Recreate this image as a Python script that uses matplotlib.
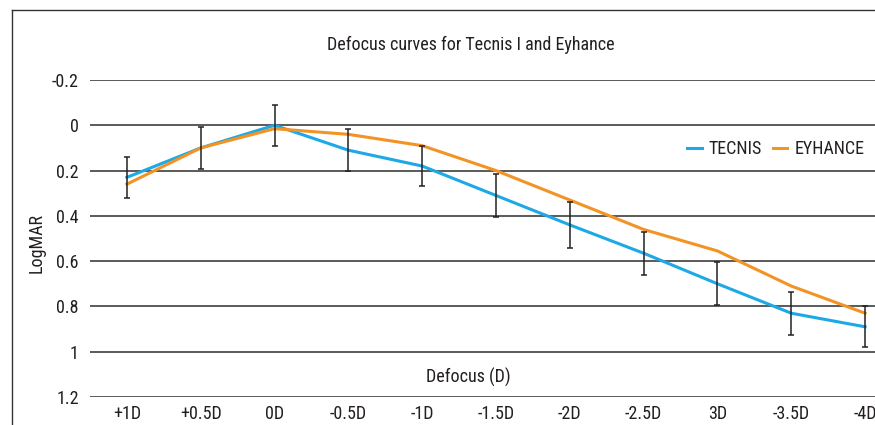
import matplotlib
matplotlib.use("Agg")
import matplotlib.pyplot as plt
from matplotlib.lines import Line2D
from matplotlib import font_manager

# narrow face to match the original; fall back to DejaVu
names = {f.name for f in font_manager.fontManager.ttflist}
narrow = [n for n in ['Roboto Condensed', 'Barlow Semi Condensed', 'Abel'] if n in names]
plt.rcParams['font.family'] = narrow[:1] + ['DejaVu Sans']

# ── Data ──────────────────────────────────────────────────────────────
defocus = ['+1D', '+0.5D', '0D', '-0.5D', '-1D', '-1.5D', '-2D', '-2.5D', '3D', '-3.5D', '-4D']
tecnis  = [0.23, 0.10, 0.00, 0.11, 0.18, 0.31, 0.44, 0.565, 0.70, 0.83, 0.89]
eyhance = [0.26, 0.10, 0.015, 0.04, 0.09, 0.20, 0.33, 0.46, 0.555, 0.71, 0.83]
tecnis_err = [0.09, 0.092, 0.09, 0.092, 0.09, 0.095, 0.10, 0.095, 0.095, 0.095, 0.09]
yticks = [-0.2, 0, 0.2, 0.4, 0.6, 0.8, 1, 1.2]
ytick_labels = ['-0.2', '0', '0.2', '0.4', '0.6', '0.8', '1', '1.2']

blue = '#1CA9E6'
orange = '#F39325'
grid_col = '#4d4d4d'
txt_col = '#231f20'
fs = 13

fig = plt.figure(figsize=(8.75, 4.25), dpi=100)
# axes runs off the right edge like the original crop
ax = fig.add_axes([90/875, 28/425, 812/875, 317/425])

x = list(range(len(defocus)))
for yv in yticks:
    ax.axhline(yv, color=grid_col, lw=1.3, zorder=1)

ax.plot(x, tecnis, color=blue, lw=2.2, zorder=3, label='TECNIS')
ax.plot(x, eyhance, color=orange, lw=2.2, zorder=4, label='EYHANCE')
ax.errorbar(x, tecnis, yerr=tecnis_err, fmt='none', ecolor='#222222',
            elinewidth=1.1, capsize=2.2, capthick=1.1, zorder=5)

ax.set_xlim(-0.5, len(defocus) - 0.5)
ax.set_ylim(1.2, -0.2)
ax.set_yticks(yticks)
ax.set_yticklabels(ytick_labels)
ax.set_xticks(x)
ax.set_xticklabels(defocus)
ax.tick_params(length=0, labelsize=fs, colors=txt_col)
ax.tick_params(axis='y', pad=8)
ax.tick_params(axis='x', pad=6)
for s in ax.spines.values():
    s.set_visible(False)

fig.text(471/875, 1 - 45/425, 'Defocus curves for Tecnis I and Eyhance',
         ha='center', va='center', fontsize=fs, color=txt_col)
fig.text(468/875, 1 - 377/425, 'Defocus (D)', ha='center', va='center',
         fontsize=fs, color=txt_col)
fig.text(37/875, 1 - 243/425, 'LogMAR', ha='center', va='center',
         rotation=90, fontsize=fs, color=txt_col)

fig.legend(loc='center', bbox_to_anchor=(776/875, 1 - 149/425), ncol=2,
           frameon=False, handlelength=0.8, handletextpad=0.4,
           columnspacing=0.6, fontsize=fs, labelcolor=txt_col)

# outer border (open on right/bottom)
fig.add_artist(Line2D([12/875, 12/875], [0, 1 - 9.5/425], color='#333333', lw=1.0))
fig.add_artist(Line2D([12/875, 1], [1 - 9.5/425, 1 - 9.5/425], color='#333333', lw=1.0))

fig.savefig('out.png', dpi=100)
